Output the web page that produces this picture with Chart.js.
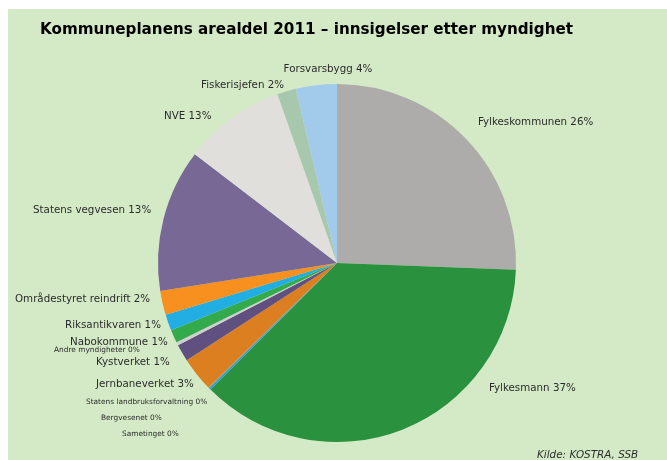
<!DOCTYPE html>
<html>
<head>
<meta charset="utf-8">
<script src="https://cdn.jsdelivr.net/npm/chart.js@4.4.1/dist/chart.umd.min.js"></script>
<style>
  html, body { margin: 0; padding: 0; background: #ffffff; }
  #wrap { position: relative; width: 667px; height: 460px; }
</style>
</head>
<body>
<div id="wrap"><canvas id="pieChart" width="667" height="460"></canvas></div>
<script>
// data, clockwise from 12 o'clock
const categories = [
    'Fylkeskommunen', 'Fylkesmann', 'Sametinget', 'Bergvesenet',
    'Statens landbruksforvaltning', 'Jernbaneverket', 'Kystverket',
    'Andre myndigheter', 'Nabokommune', 'Riksantikvaren',
    'Områdestyret reindrift', 'Statens vegvesen', 'NVE',
    'Fiskerisjefen', 'Forsvarsbygg'
];
const shares = [25.6, 36.9, 0.2, 0.03, 0.03, 3.1, 1.55, 0.28, 1.17, 1.47, 2.17, 12.9, 9.2, 1.7, 3.7];
const shownPercent = ['26%', '37%', '0%', '0%', '0%', '3%', '1%', '0%', '1%', '1%', '2%', '13%', '13%', '2%', '4%'];

const colors = [
    '#adacaa', '#2a913e', '#2ea3e0', '#c0504d', '#9bbb59', '#dc7f21', '#5f5080',
    '#cfcfcf', '#33aa4c', '#22aee3', '#f7901e', '#786895', '#e0dfdb', '#a8c8ae', '#a2cbeb'
];

// label placement relative to pie centre: [dx, dy, align, small]
const labelLayout = [
    [141, -141, 'left', false],
    [152, 125, 'left', false],
    [-215, 171, 'left', true],
    [-236, 155, 'left', true],
    [-251, 139, 'left', true],
    [-241, 121, 'left', false],
    [-241, 99, 'left', false],
    [-283, 87, 'left', true],
    [-267, 79, 'left', false],
    [-272, 62, 'left', false],
    [-322, 36, 'left', false],
    [-304, -53, 'left', false],
    [-173, -147, 'left', false],
    [-136, -178, 'left', false],
    [-9, -194, 'center', false]
];

const backdrop = {
    id: 'backdrop',
    beforeDraw(chart) {
        const c = chart.ctx;
        c.save();
        c.fillStyle = '#d4eac6';
        c.fillRect(8, 9, chart.width - 8, chart.height - 9);
        c.restore();
    }
};

const sliceLabels = {
    id: 'sliceLabels',
    afterDraw(chart) {
        const c = chart.ctx;
        const arc = chart.getDatasetMeta(0).data[0];
        c.save();
        c.fillStyle = '#2b2b2b';
        c.textBaseline = 'middle';
        categories.forEach((name, i) => {
            const [dx, dy, align, small] = labelLayout[i];
            c.font = small ? '7.4px "DejaVu Sans"' : '10.3px "DejaVu Sans"';
            c.textAlign = align;
            c.fillText(name + ' ' + shownPercent[i], arc.x + dx, arc.y + dy);
        });

        c.fillStyle = '#000000';
        c.textAlign = 'left';
        c.font = 'bold 15.2px "DejaVu Sans"';
        c.fillText('Kommuneplanens arealdel 2011 \u2013 innsigelser etter myndighet', 40, 30);

        c.font = 'italic 10.4px "DejaVu Sans"';
        c.fillStyle = '#2b2b2b';
        c.fillText('Kilde: KOSTRA, SSB', 537, 455);
        c.restore();
    }
};

const ctx = document.getElementById('pieChart').getContext('2d');
new Chart(ctx, {
    type: 'pie',
    data: {
        labels: categories,
        datasets: [{
            data: shares,
            backgroundColor: colors,
            borderWidth: 0
        }]
    },
    options: {
        responsive: false,
        animation: false,
        layout: { padding: { left: 158, right: 151, top: 84, bottom: 18 } },
        plugins: {
            legend: { display: false },
            tooltip: { enabled: false }
        }
    },
    plugins: [backdrop, sliceLabels]
});
</script>
</body>
</html>
